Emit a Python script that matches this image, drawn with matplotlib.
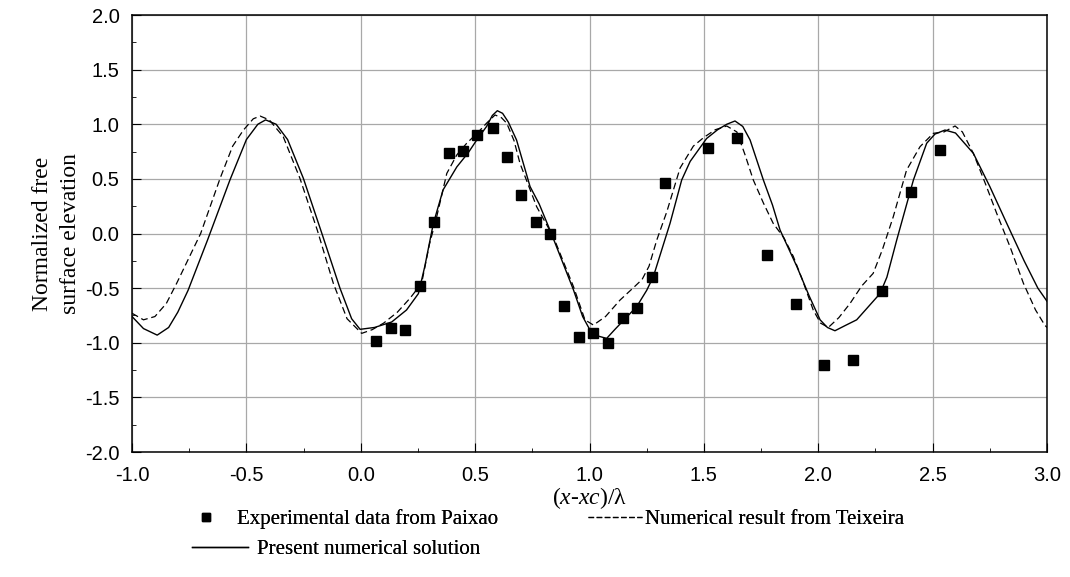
import numpy as np
import matplotlib.pyplot as plt
from matplotlib.ticker import MultipleLocator
from matplotlib.lines import Line2D

plt.rcParams["mathtext.fontset"] = "custom"
plt.rcParams["mathtext.rm"] = "Liberation Serif"
plt.rcParams["mathtext.it"] = "Liberation Serif:italic"

# experimental data (Paixao)
exp_x = [0.067, 0.132, 0.193, 0.259, 0.320, 0.386, 0.447, 0.508, 0.578, 0.639,
         0.700, 0.766, 0.827, 0.888, 0.954, 1.015, 1.081, 1.146, 1.208, 1.273,
         1.330, 1.518, 1.645, 1.776, 1.903, 2.025, 2.152, 2.279, 2.405, 2.532]
exp_y = [-0.98, -0.865, -0.883, -0.48, 0.105, 0.737, 0.755, 0.90, 0.966, 0.70,
         0.352, 0.105, -0.005, -0.66, -0.947, -0.91, -1.0, -0.77, -0.68, -0.40,
         0.46, 0.78, 0.87, -0.20, -0.645, -1.20, -1.16, -0.525, 0.38, 0.765]

# present numerical solution
sol_x = [-1.0, -0.95, -0.89, -0.84, -0.80, -0.755, -0.67, -0.572, -0.5, -0.45, -0.416,
         -0.37, -0.32, -0.251, -0.17, -0.091, -0.04, -0.003, 0.06, 0.135, 0.2,
         0.252, 0.28, 0.317, 0.36, 0.42, 0.47, 0.507, 0.55, 0.575, 0.597,
         0.62, 0.645, 0.681, 0.74, 0.78, 0.827, 0.88, 0.93, 0.97, 1.002,
         1.04, 1.075, 1.11, 1.16, 1.206, 1.25, 1.279, 1.352, 1.403, 1.44,
         1.512, 1.56, 1.6, 1.636, 1.67, 1.702, 1.76, 1.8, 1.833, 1.906,
         1.96, 2.008, 2.04, 2.073, 2.12, 2.168, 2.27, 2.3, 2.343, 2.416,
         2.474, 2.51, 2.554, 2.6, 2.678, 2.75, 2.824, 2.9, 2.96, 3.0]
sol_y = [-0.76, -0.87, -0.93, -0.86, -0.72, -0.52, -0.06, 0.49, 0.86, 1.0, 1.04,
         1.0, 0.86, 0.505, 0.0, -0.50, -0.78, -0.877, -0.86, -0.81, -0.70,
         -0.55, -0.3, 0.09, 0.40, 0.61, 0.74, 0.856, 0.98, 1.08, 1.124,
         1.1, 1.02, 0.856, 0.43, 0.27, 0.032, -0.25, -0.517, -0.76, -0.883,
         -0.94, -0.96, -0.88, -0.77, -0.67, -0.52, -0.395, 0.093, 0.49, 0.66,
         0.87, 0.95, 1.0, 1.03, 0.98, 0.856, 0.49, 0.26, 0.032, -0.30,
         -0.57, -0.79, -0.86, -0.89, -0.84, -0.79, -0.55, -0.4, -0.06, 0.49,
         0.826, 0.91, 0.947, 0.92, 0.734, 0.43, 0.093, -0.25, -0.5, -0.62]

# numerical result (Teixeira)
tex_x = [-1.0, -0.95, -0.9, -0.85, -0.805, -0.7, -0.615, -0.56, -0.513, -0.47,
         -0.44, -0.40, -0.339, -0.266, -0.19, -0.12, -0.06, 0.004, 0.05, 0.10,
         0.16, 0.215, 0.266, 0.30, 0.332, 0.376, 0.42, 0.463, 0.51, 0.55,
         0.587, 0.615, 0.638, 0.67, 0.696, 0.769, 0.842, 0.89, 0.93, 0.98,
         1.017, 1.07, 1.133, 1.2, 1.23, 1.26, 1.294, 1.338, 1.396, 1.454,
         1.5, 1.55, 1.6, 1.644, 1.68, 1.716, 1.76, 1.803, 1.85, 1.891,
         1.93, 1.978, 2.01, 2.044, 2.09, 2.139, 2.19, 2.24, 2.28, 2.328,
         2.386, 2.445, 2.503, 2.55, 2.598, 2.63, 2.678, 2.73, 2.78, 2.84,
         2.897, 2.95, 2.99, 3.0]
tex_y = [-0.73, -0.79, -0.76, -0.64, -0.456, 0.0, 0.505, 0.80, 0.947, 1.05,
         1.075, 1.04, 0.886, 0.505, 0.03, -0.456, -0.78, -0.914, -0.88, -0.82,
         -0.72, -0.593, -0.456, -0.1, 0.154, 0.55, 0.72, 0.826, 0.92, 1.01,
         1.085, 1.06, 1.01, 0.85, 0.642, 0.245, -0.03, -0.28, -0.487, -0.79,
         -0.838, -0.76, -0.61, -0.48, -0.42, -0.3, -0.06, 0.2, 0.6, 0.8,
         0.88, 0.95, 0.984, 0.93, 0.72, 0.49, 0.28, 0.093, -0.04, -0.21,
         -0.42, -0.70, -0.82, -0.86, -0.77, -0.64, -0.48, -0.365, -0.15, 0.154,
         0.58, 0.795, 0.917, 0.93, 0.984, 0.93, 0.734, 0.46, 0.185, -0.13,
         -0.456, -0.7, -0.838, -0.86]

DASH = (0, (5.5, 3))

fig = plt.figure(figsize=(10.7, 5.77), dpi=100)
ax = fig.add_axes([0.1234, 0.2166, 0.8551, 0.7574])

ax.plot(tex_x, tex_y, color="black", lw=0.9, ls=DASH)
ax.plot(sol_x, sol_y, color="black", lw=1.0)
ax.plot(exp_x, exp_y, ls="none", marker="s", ms=7, color="black")

ax.set_xlim(-1, 3)
ax.set_ylim(-2, 2)
ax.xaxis.set_major_locator(MultipleLocator(0.5))
ax.xaxis.set_minor_locator(MultipleLocator(0.25))
ax.yaxis.set_major_locator(MultipleLocator(0.5))
ax.yaxis.set_minor_locator(MultipleLocator(0.25))
ax.tick_params(which="both", direction="in", labelsize=14.5,
               labelfontfamily="Liberation Sans")
ax.tick_params(which="major", length=6.5)
ax.tick_params(which="minor", length=3)
ax.tick_params(axis="x", which="both", pad=10)
ax.tick_params(axis="y", which="both", pad=9)
ax.set_xticks(ax.get_xticks(), [f"{v:.1f}" for v in ax.get_xticks()])
ax.set_yticks(ax.get_yticks(), [f"{v:.1f}" for v in ax.get_yticks()])
ax.set_xlim(-1, 3)
ax.set_ylim(-2, 2)
ax.grid(True, which="major", color="#a8a8a8", lw=0.9)
for s in ax.spines.values():
    s.set_linewidth(1.1)

ax.set_xlabel(r"($x$-$xc$)/λ", family="Liberation Serif", fontsize=17, labelpad=0)
ax.set_ylabel("Normalized free\nsurface elevation", family="Liberation Serif",
              fontsize=17, labelpad=3, linespacing=1.45)

# legend entries placed like the original (three separate single-entry legends)
prop = {"family": "Liberation Serif", "size": 15}
entries = [
    (Line2D([], [], ls="none", marker="s", ms=5.5, color="black"),
     "Experimental data from Paixao", 181, 519, 2.4, 0.3),
    (Line2D([], [], color="black", lw=0.9, ls=(0, (4.5, 2))),
     "Numerical result from Teixeira", 588, 519, 2.6, 0.12),
    (Line2D([], [], color="black", lw=1.0),
     "Present numerical solution", 192, 549, 2.7, 0.43),
]
for h, lab, px, py, hl, hp in entries:
    leg = fig.legend([h], [lab], loc="center left",
                     bbox_to_anchor=(px / 1070, 1 - py / 577),
                     frameon=False, prop=prop, handlelength=hl,
                     handletextpad=hp, borderpad=0, borderaxespad=0)
    fig.add_artist(leg)

fig.savefig("out.png", dpi=100)
